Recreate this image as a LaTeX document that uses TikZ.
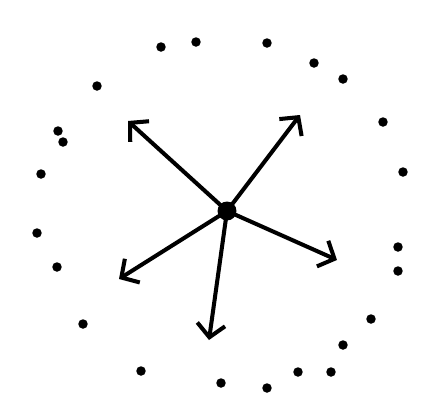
\documentclass[tikz,border=0pt]{standalone}
\usepackage{amsmath,amssymb}
\usepackage{xcolor}
\usepackage{tikz}
\usetikzlibrary{arrows.meta}

\begin{document}
\begin{tikzpicture}[x=0.02cm,y=-0.02cm,
  spoke/.style={line width=2.3pt, -{Straight Barb[length=2.6mm,width=5.6mm,line width=2.3pt]}},
  pt/.style={circle, fill, inner sep=0pt, minimum size=0.19cm}]
\useasboundingbox (0,0) rectangle (437,396);
% centre and the five arrows
\node[circle, fill, inner sep=0pt, minimum size=0.38cm] (centre) at (227,211) {};
\coordinate (ul) at (128,121);
\coordinate (ur) at (300,115);
\coordinate (rt) at (337,260);
\coordinate (dn) at (209,340);
\coordinate (lf) at (119,279);
\draw[spoke] (centre.center) -- (ul);
\draw[spoke] (centre.center) -- (ur);
\draw[spoke] (centre.center) -- (rt);
\draw[spoke] (centre.center) -- (dn);
\draw[spoke] (centre.center) -- (lf);
%
% the dots round it
\node[pt] (d1) at (161,47) {};
\node[pt] (d2) at (196,42) {};
\node[pt] (d3) at (267,43) {};
\node[pt] (d4) at (314,63) {};
\node[pt] (d5) at (343,79) {};
\node[pt] (d6) at (97,86) {};
\node[pt] (d7) at (383,122) {};
\node[pt] (d8) at (58,131) {};
\node[pt] (d9) at (63,142) {};
\node[pt] (d10) at (403,172) {};
\node[pt] (d11) at (41,174) {};
\node[pt] (d12) at (37,233) {};
\node[pt] (d13) at (398,247) {};
\node[pt] (d14) at (398,271) {};
\node[pt] (d15) at (57,267) {};
\node[pt] (d16) at (371,319) {};
\node[pt] (d17) at (83,324) {};
\node[pt] (d18) at (343,345) {};
\node[pt] (d19) at (141,371) {};
\node[pt] (d20) at (298,372) {};
\node[pt] (d21) at (331,372) {};
\node[pt] (d22) at (221,383) {};
\node[pt] (d23) at (267,388) {};
\end{tikzpicture}
\end{document}
